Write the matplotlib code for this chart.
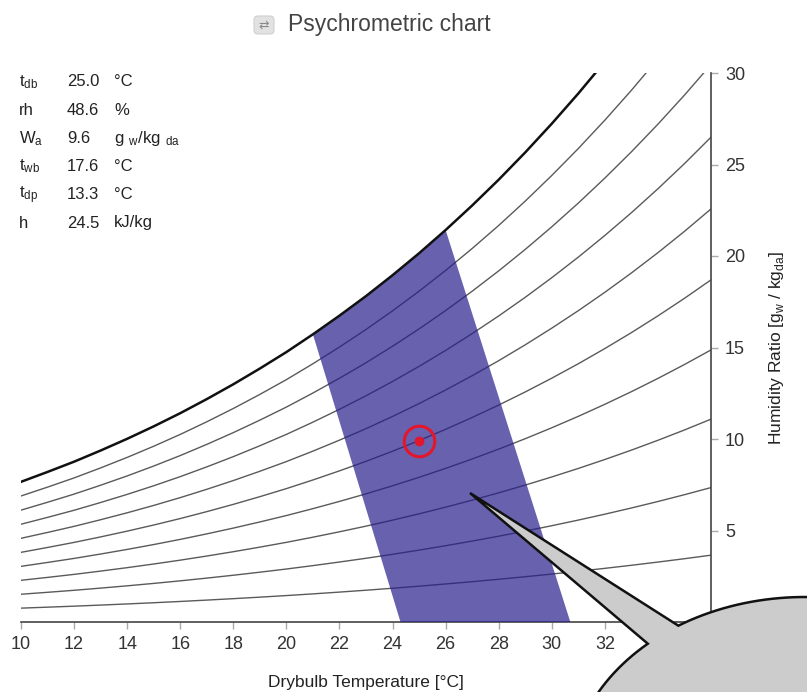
import numpy as np
import matplotlib
matplotlib.use("Agg")
import matplotlib.pyplot as plt
from matplotlib.path import Path
from matplotlib.patches import PathPatch, FancyBboxPatch

plt.rcParams['font.family'] = ['Liberation Sans', 'DejaVu Sans']

# ---------------- data ----------------
temps = [10, 11, 12, 13, 14, 15, 16, 17, 18, 19, 20, 21, 22, 23, 24, 25, 26,
         27, 28, 29, 30, 31, 32, 33, 34, 35, 36]
# saturation humidity ratio [g/kg] at each drybulb temperature
w_sat = [7.66, 8.20, 8.76, 9.37, 10.01, 10.69, 11.41, 12.18, 12.99, 13.85, 14.75,
         15.72, 16.74, 17.81, 18.95, 20.15, 21.42, 22.76, 24.17, 25.66, 27.23,
         28.88, 30.62, 32.45, 34.38, 36.41, 38.55]
rh_levels = [10, 20, 30, 40, 50, 60, 70, 80, 90]
pressure = 101.325  # kPa

# comfort zone: top follows saturation between 21 and 26 C, bottom at W=0
zone_top_temps = [21, 22, 23, 24, 25, 26]
zone_bottom_left = 24.3
zone_bottom_right = 30.7

point_t = 25.0
point_w = 9.9

x_ticks = [10, 12, 14, 16, 18, 20, 22, 24, 26, 28, 30, 32, 34, 36]
y_ticks = [0, 5, 10, 15, 20, 25, 30]

info_labels = [r"$\mathregular{t_{db}}$", "rh", r"$\mathregular{W_{a}}$",
               r"$\mathregular{t_{wb}}$", r"$\mathregular{t_{dp}}$", "h"]
info_values = ["25.0", "48.6", "9.6", "17.6", "13.3", "24.5"]
info_units = ["°C", "%", r"$\mathregular{g\ _{w}/kg\ _{da}}$", "°C", "°C", "kJ/kg"]

# ---------------- figure ----------------
W_PX, H_PX = 807, 692
fig = plt.figure(figsize=(W_PX / 100, H_PX / 100), dpi=100)

ax = fig.add_axes([21 / W_PX, (H_PX - 622) / H_PX, 690 / W_PX, 549 / H_PX])
ax.set_xlim(10, 36)
ax.set_ylim(0, 30)

T = np.array(temps, dtype=float)
Ws = np.array(w_sat, dtype=float)
pws = pressure * Ws / (622.0 + Ws)

# comfort zone polygon
ws_map = dict(zip(temps, w_sat))
poly_x = [zone_bottom_left] + zone_top_temps + [zone_bottom_right]
poly_y = [0] + [ws_map[t] for t in zone_top_temps] + [0]

# RH lines
for rh in rh_levels:
    phi = rh / 100.0
    w_line = 622.0 * phi * pws / (pressure - phi * pws)
    ax.plot(T, w_line, color='#5a5a5a', lw=1.0, zorder=2)

ax.fill(poly_x, poly_y, color=(40 / 255, 30 / 255, 140 / 255), alpha=0.7,
        lw=0, zorder=3)
ax.plot(T, Ws, color='#111111', lw=1.8, zorder=4)

# state point
ax.plot([point_t], [point_w], 'o', ms=22, mfc='none', mec='#e3162b', mew=2.2, zorder=5)
ax.plot([point_t], [point_w], 'o', ms=6, color='#e3162b', zorder=5)

# axes styling
for s in ['top', 'left']:
    ax.spines[s].set_visible(False)
for s in ['bottom', 'right']:
    ax.spines[s].set_color('#444444')
    ax.spines[s].set_linewidth(1.2)
ax.yaxis.tick_right()
ax.yaxis.set_label_position('right')
ax.set_xticks(x_ticks)
ax.set_yticks(y_ticks)
ax.tick_params(axis='both', direction='out', length=5, width=1, color='#aaaaaa',
               labelsize=13, labelcolor='#333333', pad=5)
ax.set_xlabel('Drybulb Temperature [°C]', fontsize=12.5, color='#222222', labelpad=16)
ax.set_ylabel(r'Humidity Ratio [g$_\mathregular{w}$ / kg$_\mathregular{da}$]',
              fontsize=12.5, color='#222222', labelpad=16)

# ---------------- overlay (pixel coordinates) ----------------
ov = fig.add_axes([0, 0, 1, 1], zorder=10)
ov.set_xlim(0, W_PX)
ov.set_ylim(H_PX, 0)
ov.axis('off')
ov.patch.set_alpha(0)

# title with icon
ov.add_patch(FancyBboxPatch((254, 16), 20, 18, boxstyle='round,pad=0,rounding_size=4',
                            fc='#e2e2e2', ec='#d0d0d0', lw=0.8))
ov.text(264, 25.5, '⇄', fontsize=9, color='#8a8a8a', ha='center', va='center',
        family=['DejaVu Sans'])
ov.text(288, 25, 'Psychrometric chart', fontsize=16.5, color='#444444',
        ha='left', va='center')

# info block
for i, (lab, val, unit) in enumerate(zip(info_labels, info_values, info_units)):
    y = 82 + 28.2 * i
    ov.text(19, y, lab, fontsize=12, color='#222222', ha='left', va='center')
    ov.text(67, y, val, fontsize=12, color='#222222', ha='left', va='center')
    ov.text(114, y, unit, fontsize=12, color='#222222', ha='left', va='center')

# speech bubble
cx, cy, rx, ry = 805, 779, 235, 182
tip = (470, 493)
b1 = (672, 618)
b2 = (640, 637)
a1 = np.arctan2((b1[1] - cy) / ry, (b1[0] - cx) / rx)
a2 = np.arctan2((b2[1] - cy) / ry, (b2[0] - cx) / rx) + 2 * np.pi
ang = np.linspace(a1, a2, 200)
ex = cx + rx * np.cos(ang)
ey = cy + ry * np.sin(ang)
verts = [tip] + list(zip(ex, ey)) + [tip]
codes = [Path.MOVETO] + [Path.LINETO] * (len(verts) - 2) + [Path.CLOSEPOLY]
ov.add_patch(PathPatch(Path(verts, codes), fc='#cccccc', ec='#111111', lw=1.8,
                       joinstyle='miter'))

fig.savefig('out.png', dpi=100)
